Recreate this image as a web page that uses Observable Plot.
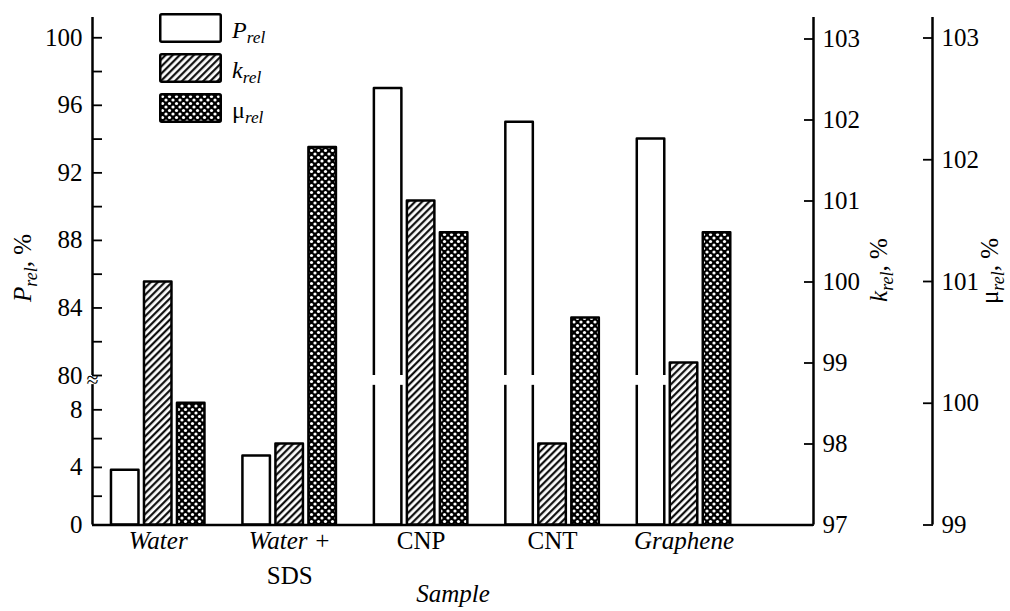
<!DOCTYPE html>
<html>
<head>
<meta charset="utf-8">
<script src="https://cdn.jsdelivr.net/npm/d3@7"></script>
<script src="https://cdn.jsdelivr.net/npm/@observablehq/plot@0.6"></script>
<style>
  html, body { margin: 0; padding: 0; background: #fff; }
  #chart { position: relative; width: 1010px; height: 611px; overflow: hidden; font-family: 'Liberation Serif', serif; color: #000; }
  #chart > svg { position: absolute; left: 0; top: 0; }
  #chart svg text { font-family: 'Liberation Serif', serif; }
  .ttl { position: absolute; white-space: nowrap; font-size: 25px; line-height: 25px; transform: translate(-50%, -50%) rotate(-90deg); }
  .sub { font-size: 0.72em; position: relative; top: 0.32em; font-style: italic; }
  .legend { position: absolute; left: 159px; top: 13px; }
  .lrow { display: flex; align-items: center; height: 30px; margin-bottom: 10px; }
  .lrow svg { display: block; margin-right: 10px; }
  .llab { font-size: 24px; line-height: 24px; position: relative; top: 3px; }
</style>
</head>
<body>
<div id="chart"></div>
<script>
// ---- data ----
const categories = ["Water", "Water +", "CNP", "CNT", "Graphene"];
const categorySecondLine = ["", "SDS", "", "", ""];
const italicCategory = [true, true, false, false, true];
const pRel = [3.8, 4.8, 97.0, 95.0, 94.0];
const kRel = [100.0, 98.0, 101.0, 98.0, 99.0];
const muRel = [100.0, 102.1, 101.4, 100.7, 101.4];
const pTicksMajor = [0, 4, 8, 80, 84, 88, 92, 96, 100];
const pTicksMinor = [2, 6, 82, 86, 90, 94, 98];
const kTicks = [97, 98, 99, 100, 101, 102, 103];
const muTicks = [99, 100, 101, 102, 103];
const seriesNames = ["P", "k", "μ"];

// ---- layout ----
const W = 1010, H = 611;
const frameTop = 17, frameBottom = 524.5;
const xLeft = 92, kAxisPx = 813, muAxisPx = 932;
const unit = 131.45;
const xDomain = [-0.5, -0.5 + (muAxisPx - xLeft) / unit];
const kAxisX = -0.5 + (kAxisPx - xLeft) / unit;
const pitch = 33 / unit, halfBar = 13.75 / unit, gapPad = 3 / unit;
const kTop = 97 + (frameBottom - frameTop) / 81.0;
const muTop = 99 + (frameBottom - frameTop) / 121.75;
const pTop = 101.2;
const idx = d3.range(categories.length);
const FF = "Liberation Serif";
const intFmt = d => String(d);

const chart = document.getElementById("chart");
chart.insertAdjacentHTML("beforeend", `<svg width="0" height="0" style="position:absolute"><defs>
<pattern id="hatch" patternUnits="userSpaceOnUse" width="5" height="5" patternTransform="rotate(45)">
<rect width="5" height="5" fill="white"/><line x1="1.2" y1="0" x2="1.2" y2="5" stroke="black" stroke-width="2.1"/></pattern>
<pattern id="xhatch" patternUnits="userSpaceOnUse" width="7" height="7">
<rect width="7" height="7" fill="black"/>
<circle cx="0" cy="0" r="1.6" fill="white"/><circle cx="7" cy="0" r="1.6" fill="white"/>
<circle cx="0" cy="7" r="1.6" fill="white"/><circle cx="7" cy="7" r="1.6" fill="white"/>
<circle cx="3.5" cy="3.5" r="1.6" fill="white"/></pattern>
</defs></svg>`);

function common(right) {
  return {
    width: W, height: H,
    marginTop: frameTop, marginBottom: H - frameBottom, marginLeft: xLeft, marginRight: W - right,
    x: {type: "linear", domain: xDomain, range: [xLeft, muAxisPx], axis: null},
    style: {background: "transparent", color: "black", fontFamily: FF, fontSize: "25px", overflow: "visible"}
  };
}
const barStyle = {stroke: "black", strokeWidth: 2.5, strokeLinejoin: "round"};
const txt = {fontFamily: FF, fontSize: 25};

const pPlot = Plot.plot({
  ...common(kAxisPx),
  y: {type: "linear", domain: [0, 9.8, 80, pTop], range: [frameBottom, 383.4, 375, frameTop]},
  marks: [
    Plot.rect(idx, {x1: i => i - pitch - halfBar, x2: i => i - pitch + halfBar, y1: 0, y2: i => pRel[i], fill: "white", ...barStyle}),
    Plot.rect(idx.filter(i => pRel[i] > 80), {x1: i => i - pitch - halfBar - gapPad, x2: i => i - pitch + halfBar + gapPad, y1: 9.7, y2: 80, fill: "white"}),
    Plot.ruleX([xDomain[0]], {y1: 0, y2: 9.75, strokeWidth: 2.5}),
    Plot.ruleX([xDomain[0]], {y1: 80, y2: pTop, strokeWidth: 2.5}),
    Plot.ruleY([0], {x1: xDomain[0], x2: kAxisX, strokeWidth: 2.5}),
    Plot.axisY({anchor: "left", ticks: [...pTicksMajor, ...pTicksMinor], tickSize: -10, tickFormat: () => "", strokeWidth: 1.8}),
    Plot.axisY({anchor: "left", ticks: pTicksMajor, tickSize: 0, tickPadding: 10, tickFormat: intFmt, ...txt}),
    Plot.text(["≈"], {x: xDomain[0], y: 45, ...txt, fontSize: 22}),
    Plot.text(idx.filter(i => italicCategory[i]), {x: i => i, text: i => categories[i], frameAnchor: "bottom", dy: 24, fontStyle: "italic", ...txt}),
    Plot.text(idx.filter(i => !italicCategory[i]), {x: i => i, text: i => categories[i], frameAnchor: "bottom", dy: 24, ...txt}),
    Plot.text(idx.filter(i => categorySecondLine[i]), {x: i => i, text: i => categorySecondLine[i], frameAnchor: "bottom", dy: 58.5, ...txt}),
    Plot.text(["Sample"], {frameAnchor: "bottom", dy: 77, fontStyle: "italic", ...txt})
  ]
});

const kPlot = Plot.plot({
  ...common(kAxisPx),
  y: {type: "linear", domain: [97, kTop], range: [frameBottom, frameTop]},
  marks: [
    Plot.rect(idx, {x1: i => i - halfBar, x2: i => i + halfBar, y1: 97, y2: i => kRel[i], fill: "url(#hatch)", ...barStyle}),
    Plot.ruleX([kAxisX], {y1: 97, y2: kTop, strokeWidth: 2.5}),
    Plot.axisY({anchor: "right", ticks: kTicks, tickSize: -10, tickFormat: () => "", strokeWidth: 1.8}),
    Plot.axisY({anchor: "right", ticks: kTicks, tickSize: 0, tickPadding: 9, tickFormat: intFmt, ...txt})
  ]
});

const muPlot = Plot.plot({
  ...common(muAxisPx),
  y: {type: "linear", domain: [99, muTop], range: [frameBottom, frameTop]},
  marks: [
    Plot.rect(idx, {x1: i => i + pitch - halfBar, x2: i => i + pitch + halfBar, y1: 99, y2: i => muRel[i], fill: "url(#xhatch)", ...barStyle}),
    Plot.ruleX([xDomain[1]], {y1: 99, y2: muTop, strokeWidth: 2.5}),
    Plot.axisY({anchor: "right", ticks: muTicks, tickSize: -10, tickFormat: () => "", strokeWidth: 1.8}),
    Plot.axisY({anchor: "right", ticks: muTicks, tickSize: 0, tickPadding: 9, tickFormat: intFmt, ...txt})
  ]
});

for (const p of [pPlot, kPlot, muPlot]) {
  p.setAttribute("font-family", FF);
  p.style.fontFamily = "'Liberation Serif', serif";
  chart.appendChild(p);
}

const fills = ["white", "url(#hatch)", "url(#xhatch)"];
const legendLabels = ['<i>P</i><span class="sub">rel</span>', '<i>k</i><span class="sub">rel</span>', 'μ<span class="sub">rel</span>'];
chart.insertAdjacentHTML("beforeend", `<div class="legend">${seriesNames.map((s, j) => `
  <div class="lrow"><svg width="63" height="30"><rect x="1.25" y="1.25" width="60.5" height="27.5" rx="1.5" fill="${fills[j]}" stroke="black" stroke-width="2.5"/></svg><span class="llab">${legendLabels[j]}</span></div>`).join("")}</div>`);

chart.insertAdjacentHTML("beforeend", `
<div class="ttl" style="left:24px;top:268px"><i>P</i><span class="sub">rel</span>, %</div>
<div class="ttl" style="left:880px;top:270px"><i>k</i><span class="sub">rel</span>, %</div>
<div class="ttl" style="left:991px;top:271px">μ<span class="sub">rel</span>, %</div>`);
</script>
</body>
</html>
